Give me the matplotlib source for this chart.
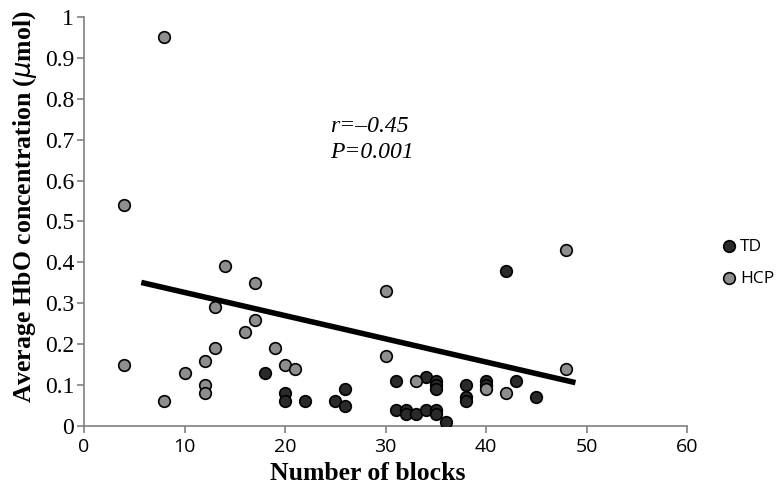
import matplotlib
matplotlib.use("Agg")
import matplotlib.pyplot as plt

# TD group (dark markers)
td_x = [18, 20, 20, 22, 25, 26, 26, 31, 31, 32, 32, 33, 34, 34, 35, 35, 35, 35, 35,
        36, 38, 38, 38, 40, 40, 42, 43, 45]
td_y = [0.13, 0.08, 0.06, 0.06, 0.06, 0.09, 0.05, 0.11, 0.04, 0.04, 0.03, 0.03, 0.12, 0.04,
        0.11, 0.10, 0.09, 0.04, 0.03, 0.01, 0.10, 0.07, 0.06, 0.11, 0.10, 0.38, 0.11, 0.07]

# HCP group (gray markers)
hcp_x = [8, 4, 4, 8, 10, 12, 12, 12, 13, 13, 14, 16, 17, 17, 19, 20, 21, 30, 30, 33,
         40, 42, 48, 48]
hcp_y = [0.95, 0.54, 0.15, 0.06, 0.13, 0.16, 0.10, 0.08, 0.29, 0.19, 0.39, 0.23, 0.35, 0.26,
         0.19, 0.15, 0.14, 0.33, 0.17, 0.11, 0.09, 0.08, 0.43, 0.14]

# trend line end points
trend_x = [5.7, 48.9]
trend_y = [0.351, 0.106]

x_ticks = [0, 10, 20, 30, 40, 50, 60]
y_ticks = [0, 0.1, 0.2, 0.3, 0.4, 0.5, 0.6, 0.7, 0.8, 0.9, 1]
y_labels = ["0", "0.1", "0.2", "0.3", "0.4", "0.5", "0.6", "0.7", "0.8", "0.9", "1"]

fig = plt.figure(figsize=(7.8, 4.91), dpi=100)
ax = fig.add_axes([0.1077, 0.1324, 0.7731, 0.833])

ax.scatter(td_x, td_y, s=70, color="#2a2a2a", edgecolor="black", linewidth=1.2,
           label="TD", zorder=3)
ax.scatter(hcp_x, hcp_y, s=70, color="#8e8e8e", edgecolor="black", linewidth=1.2,
           label="HCP", zorder=3)
ax.plot(trend_x, trend_y, color="black", linewidth=4, solid_capstyle="butt", zorder=2)

ax.text(24.5, 0.72, "r=\u20130.45", family="Liberation Serif", style="italic", fontsize=17)
ax.text(24.5, 0.655, "P=0.001", family="Liberation Serif", style="italic", fontsize=17)

ax.set_xlim(0, 60)
ax.set_ylim(0, 1)
ax.set_xticks(x_ticks)
ax.set_xticklabels([str(t) for t in x_ticks], family="Open Sans", fontsize=14)
ax.set_yticks(y_ticks)
ax.set_yticklabels(y_labels, family="Liberation Serif", fontsize=17)

for side in ["top", "right"]:
    ax.spines[side].set_visible(False)
for side in ["left", "bottom"]:
    ax.spines[side].set_color("#808080")
    ax.spines[side].set_linewidth(1.2)
ax.tick_params(axis="both", direction="out", length=5, color="#808080", width=1.2)
ax.tick_params(axis="y", pad=2)

ax.set_xlabel("Number of blocks", family="Liberation Serif", fontweight="bold",
              fontsize=18.5)
ax.xaxis.set_label_coords(0.471, -0.088)
ax.set_ylabel("Average HbO concentration ($\\mu$mol)", family="Liberation Serif",
              fontweight="bold", fontsize=18.5)
ax.yaxis.set_label_coords(-0.074, 0.535)

ax.legend(loc="center left", bbox_to_anchor=(1.058, 0.399), frameon=False,
          prop={"family": "Open Sans", "size": 12.5}, handlelength=0.8,
          handletextpad=0.25, labelspacing=0.9, borderpad=0, borderaxespad=0,
          scatterpoints=1)

fig.savefig("out.png", dpi=100)
